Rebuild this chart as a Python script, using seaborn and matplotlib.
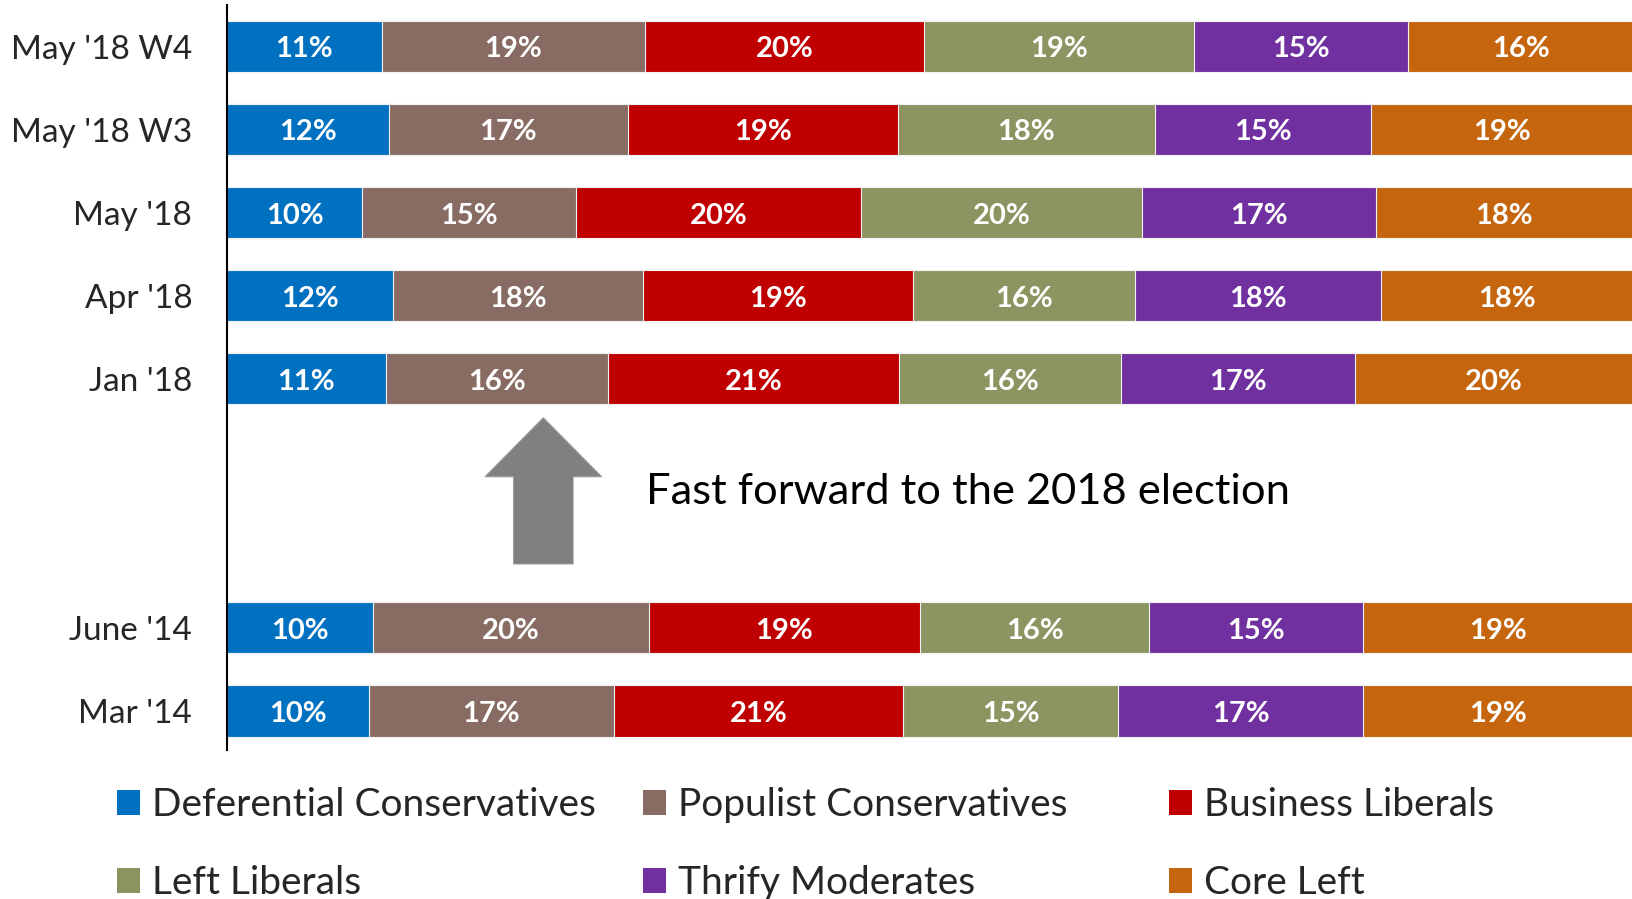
import numpy as np
import pandas as pd
import matplotlib
matplotlib.use("Agg")
import matplotlib.pyplot as plt
import seaborn as sns
from matplotlib.patches import Patch, FancyArrow

# Survey waves (top to bottom), two empty slots mark the jump in time
waves = ["May '18 W4", "May '18 W3", "May '18", "Apr '18", "Jan '18", "June '14", "Mar '14"]
row_order = ["May '18 W4", "May '18 W3", "May '18", "Apr '18", "Jan '18", "", " ", "June '14", "Mar '14"]

segments = ["Deferential Conservatives", "Populist Conservatives", "Business Liberals",
            "Left Liberals", "Thrify Moderates", "Core Left"]

# shares in %, one list per segment, same order as waves
deferential_cons = [11.0, 11.5, 9.6, 11.8, 11.3, 10.4, 10.1]
populist_cons = [18.7, 17.0, 15.2, 17.8, 15.8, 19.6, 17.4]
business_lib = [19.9, 19.2, 20.3, 19.2, 20.7, 19.3, 20.6]
left_lib = [19.2, 18.3, 20.0, 15.8, 15.8, 16.3, 15.3]
thrifty_mod = [15.2, 15.4, 16.6, 17.5, 16.6, 15.2, 17.4]
core_left = [16.0, 18.6, 18.3, 17.9, 19.8, 19.2, 19.2]

colors = ["#0070C0", "#886C64", "#C00000", "#8D9461", "#7030A0", "#C5660F"]

df = pd.DataFrame({"wave": waves})
for name, vals in zip(segments, [deferential_cons, populist_cons, business_lib,
                                 left_lib, thrifty_mod, core_left]):
    df[name] = vals

# cumulative ends for stacking
cum = df[segments].cumsum(axis=1)

sns.set_style("white")
plt.rcParams["font.family"] = ["Lato", "DejaVu Sans"]

fig = plt.figure(figsize=(16.33, 8.99), dpi=100)
ax = fig.add_axes([227 / 1633, 1 - 750 / 899, 1 - 227 / 1633, (750 - 5) / 899])

# draw longest cumulative bar first, shorter ones on top
for i in range(len(segments) - 1, -1, -1):
    tmp = pd.DataFrame({"wave": df["wave"], "end": cum[segments[i]]})
    sns.barplot(data=tmp, y="wave", x="end", order=row_order, orient="h",
                color=colors[i], saturation=1, width=0.616,
                edgecolor="#f2f2f2", linewidth=0.8, ax=ax)

# centred percentage labels
pos = {w: row_order.index(w) for w in waves}
for i, seg in enumerate(segments):
    for j, w in enumerate(waves):
        v = df.loc[j, seg]
        mid = cum.loc[j, seg] - v / 2
        ax.text(mid, pos[w] + 0.035, f"{v:.0f}%", ha="center", va="center",
                color="white", fontsize=21, fontweight="bold")

ax.set_xlim(0, 100)
ax.set_ylim(8.47, -0.5)
ax.set_xlabel("")
ax.set_ylabel("")
ax.set_xticks([])
ax.tick_params(axis="y", length=0, pad=25, labelsize=24)
for s in ["top", "right", "bottom"]:
    ax.spines[s].set_visible(False)
ax.spines["left"].set_color("black")
ax.spines["left"].set_linewidth(1.5)

# arrow + note in the gap
ax.add_patch(FancyArrow(22.5, 6.23, 0, -1.76, width=4.23, head_width=8.3,
                        head_length=0.71, length_includes_head=True,
                        facecolor="#808080", edgecolor="#9a9a9a", linewidth=0.8))
ax.text(29.8, 5.36, "Fast forward to the 2018 election", fontsize=31.3,
        ha="left", va="center", color="black")

# legend: three columns of two entries
handles = [Patch(facecolor=c, edgecolor="none") for c in colors]
col_x = [117 / 1633, 643 / 1633, 1169 / 1633]
for k in range(3):
    fig.legend([handles[k], handles[k + 3]], [segments[k], segments[k + 3]],
               loc="center left", bbox_to_anchor=(col_x[k], 1 - 844 / 899),
               frameon=False, fontsize=28, handlelength=0.6, handleheight=0.6,
               handletextpad=0.3, labelspacing=1.08, borderpad=0, borderaxespad=0)

fig.savefig("out.png", dpi=100)
